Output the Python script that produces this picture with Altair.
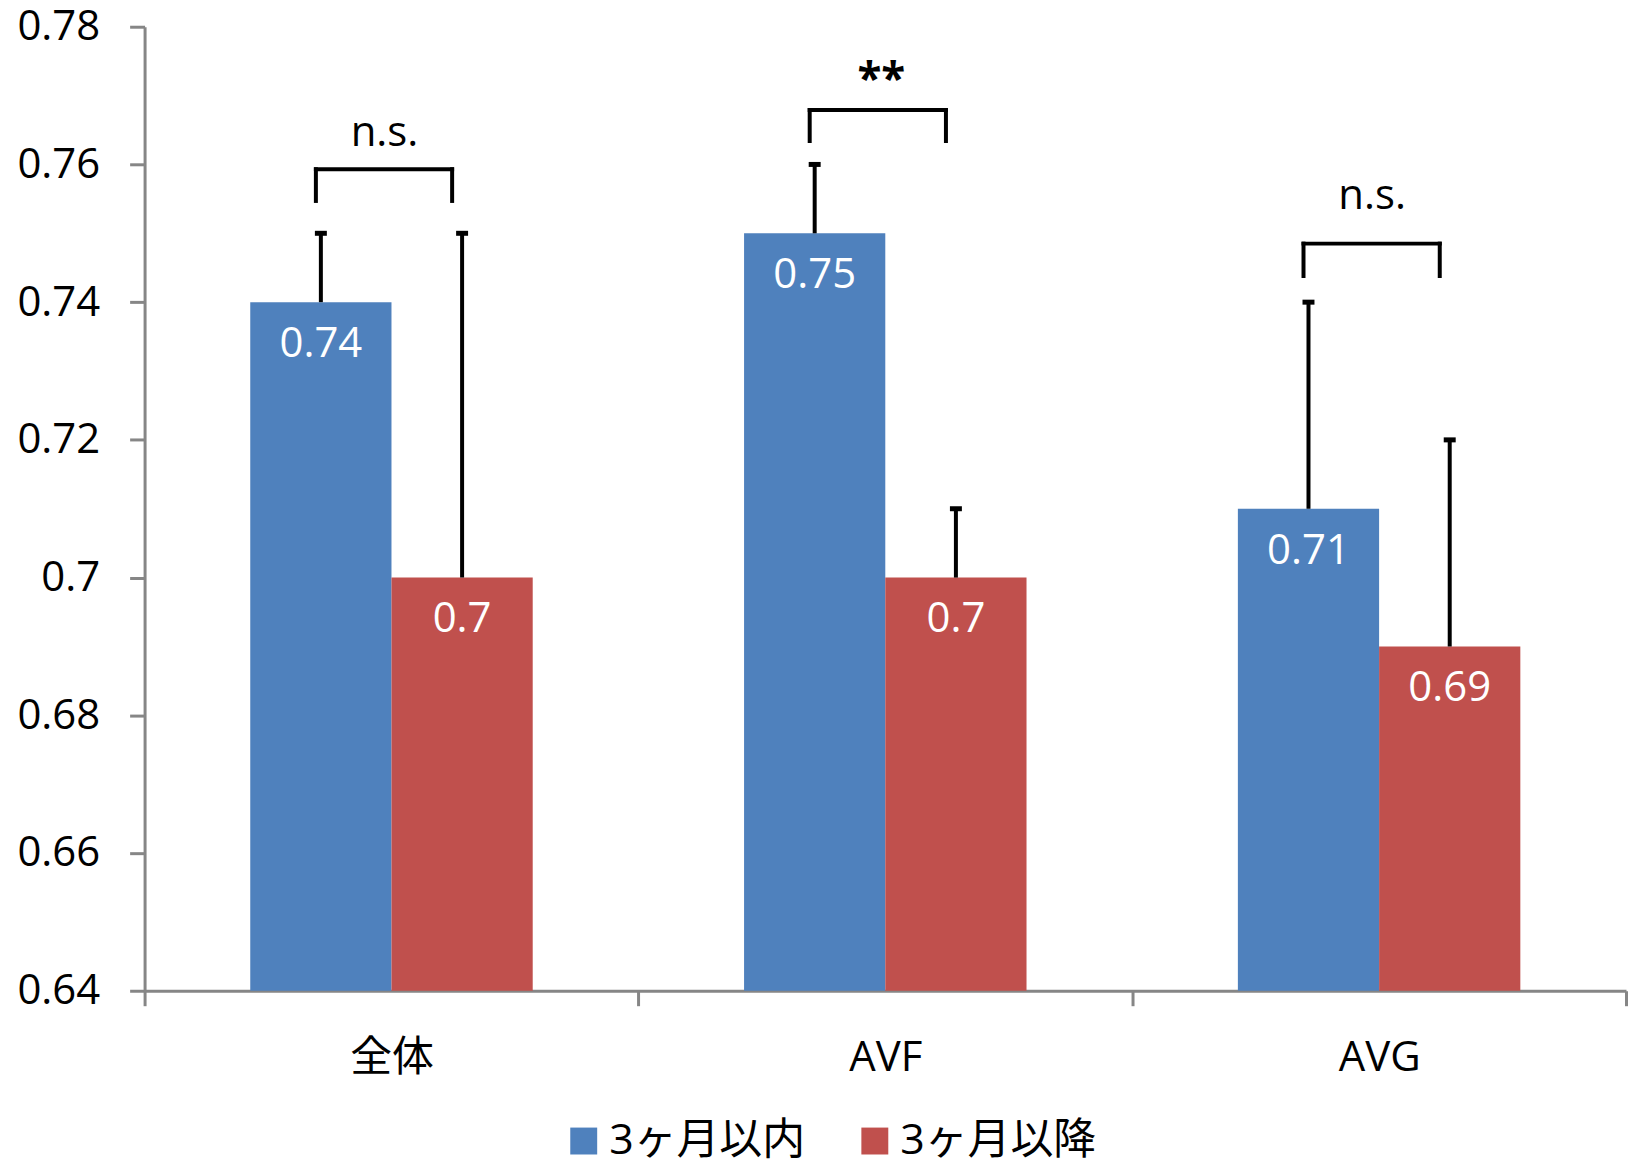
import altair as alt
import pandas as pd

# ---- data ----
categories = ["全体", "AVF", "AVG"]
series = ["3ヶ月以内", "3ヶ月以降"]
within_3m = [0.74, 0.75, 0.71]
after_3m = [0.70, 0.70, 0.69]
within_3m_upper = [0.75, 0.76, 0.74]
after_3m_upper = [0.75, 0.71, 0.72]
y_ticks = [0.64, 0.66, 0.68, 0.70, 0.72, 0.74, 0.76, 0.78]

# significance annotations (levels in data units)
sig_labels = ["n.s.", "**", "n.s."]
sig_bracket = [0.7593, 0.7679, 0.7485]
sig_leg = [0.7547, 0.7634, 0.7438]
sig_text = [0.7627, 0.7703, 0.7536]

colors = ["#4F81BD", "#C0504D"]
FONT = "Open Sans, Noto Sans CJK JP"
BAR_W = 0.286  # fraction of a category slot taken by one bar

rows = []
for i, cat in enumerate(categories):
    mid = i + 0.5
    for s, (vals, ups) in enumerate([(within_3m, within_3m_upper), (after_3m, after_3m_upper)]):
        x0 = mid - BAR_W if s == 0 else mid
        rows.append(dict(cat=cat, series=series[s], value=vals[i], upper=ups[i],
                         x0=x0, x1=x0 + BAR_W, xc=x0 + BAR_W / 2))
df = pd.DataFrame(rows)

sig = pd.DataFrame(dict(
    cat=categories, label=sig_labels, level=sig_bracket, leg=sig_leg, ty=sig_text,
    bl=[i + 0.5 - BAR_W / 2 for i in range(len(categories))],
    br=[i + 0.5 + BAR_W / 2 for i in range(len(categories))],
    bm=[i + 0.5 for i in range(len(categories))],
))

xscale = alt.Scale(domain=[0, len(categories)], nice=False, zero=False)
yscale = alt.Scale(domain=[y_ticks[0], y_ticks[-1]], nice=False, zero=False)

label_expr = " : ".join(
    f"datum.value == {i} ? '{c}'" for i, c in enumerate(categories)
) + " : ''"

x_axis = alt.Axis(values=list(range(len(categories) + 1)), labelExpr=label_expr,
                  title=None, grid=False, labelOffset=247.7, labelFlush=False,
                  labelOverlap=False, labelBound=False,
                  tickSize=15, tickWidth=3, tickColor="#868686",
                  domainColor="#868686", domainWidth=3,
                  labelFont=FONT, labelFontSize=42, labelColor="#000000",
                  labelPadding=32)
y_axis = alt.Axis(values=y_ticks, format="~g", title=None, grid=False,
                  tickSize=15, tickWidth=3, tickColor="#868686",
                  domainColor="#868686", domainWidth=3,
                  labelFont=FONT, labelFontSize=42, labelColor="#000000",
                  labelPadding=30, labelFlush=False)

base = alt.Chart(df)

bars = base.mark_bar().encode(
    x=alt.X("x0:Q", scale=xscale, axis=x_axis),
    x2="x1:Q",
    y=alt.Y("value:Q", scale=yscale, axis=y_axis),
    y2=alt.datum(y_ticks[0]),
    color=alt.Color("series:N", scale=alt.Scale(domain=series, range=colors),
                    legend=alt.Legend(orient="none", legendX=419, legendY=1096,
                                      direction="horizontal", title=None,
                                      symbolType="square", symbolSize=729,
                                      symbolStrokeWidth=0, symbolOpacity=1,
                                      labelFont=FONT, labelFontSize=43,
                                      labelColor="#000000", labelOffset=4,
                                      labelLimit=0, columnPadding=48)),
)

err = base.mark_rule(color="black", strokeWidth=4).encode(
    x="xc:Q", y="value:Q", y2="upper:Q")
caps = base.mark_tick(color="black", orient="horizontal", size=12, thickness=5, opacity=1).encode(
    x="xc:Q", y="upper:Q")

labels = base.mark_text(color="white", font=FONT, fontSize=42, baseline="middle", dy=42).encode(
    x="xc:Q", y="value:Q", text=alt.Text("value:Q", format="~g"))

sbase = alt.Chart(sig)
hline = sbase.mark_rule(color="black", strokeWidth=4, strokeCap="square",
                        xOffset=-5, x2Offset=-10).encode(
    x="bl:Q", x2="br:Q", y="level:Q")
lleg = sbase.mark_rule(color="black", strokeWidth=4, strokeCap="square", xOffset=-5).encode(
    x="bl:Q", y="level:Q", y2="leg:Q")
rleg = sbase.mark_rule(color="black", strokeWidth=4, strokeCap="square", xOffset=-10).encode(
    x="br:Q", y="level:Q", y2="leg:Q")
stext = sbase.transform_filter("datum.label != '**'").mark_text(
    color="black", font=FONT, fontSize=42, baseline="alphabetic", xOffset=-7).encode(
    x="bm:Q", y="ty:Q", text="label:N")
stars = sbase.transform_filter("datum.label == '**'").mark_text(
    color="black", font=FONT, fontSize=44, fontWeight="bold", baseline="alphabetic",
    xOffset=-4).encode(
    x="bm:Q", y="ty:Q", text="label:N")

chart = alt.layer(bars, err, caps, labels, hline, lleg, rleg, stext, stars).properties(
    width=1486, height=967,
    autosize=alt.AutoSizeParams(type="none"),
    padding={"left": 137, "top": 17, "right": 2, "bottom": 170},
).configure_view(strokeWidth=0)

chart.save("out.html", embed_options={"renderer": "svg", "actions": False})
